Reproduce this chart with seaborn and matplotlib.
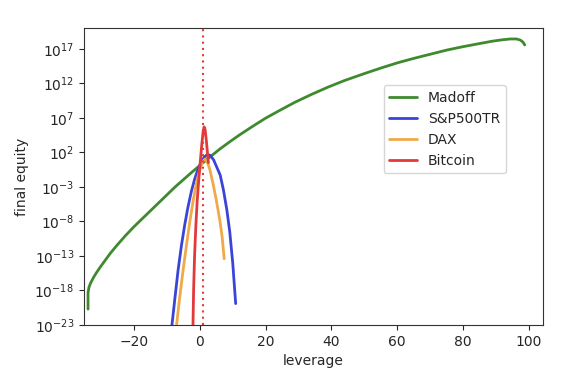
import numpy as np
import pandas as pd
import matplotlib
matplotlib.use("Agg")
import matplotlib.pyplot as plt
import seaborn as sns
from matplotlib.ticker import FixedLocator, NullLocator, LogFormatterSciNotation

# leverage values and log10(final equity)
madoff_x = [-34.0, -34.0, -33.7, -33.2, -32.2, -31.2, -30.2, -29.2, -27.2, -25.1, -22.6,
            -20.1, -17.5, -15.0, -12.5, -10.0, -7.5, -5.0, -2.5, 0, 3, 6, 9, 12, 16, 20,
            24, 28.9, 34, 39, 44, 50, 55, 60, 65, 70, 75, 80, 85, 89, 92, 94.5, 96.3,
            97.5, 98.3, 98.8]
madoff_log = [-20.7, -18.3, -17.5, -16.9, -16.0, -15.25, -14.55, -13.9, -12.6, -11.4, -10.05,
              -8.8, -7.6, -6.45, -5.3, -4.15, -3.0, -1.95, -0.9, 0.1, 1.3, 2.45, 3.5, 4.5,
              5.75, 6.95, 8.0, 9.25, 10.4, 11.45, 12.4, 13.4, 14.2, 14.95, 15.6, 16.2, 16.8,
              17.3, 17.75, 18.1, 18.3, 18.42, 18.42, 18.25, 17.95, 17.55]

sp_x = [-8.6, -7.6, -6.6, -5.6, -4.6, -3.6, -2.6, -1.6, -0.6, 0.4, 1.4, 2.3, 3.2, 4.2,
        5.2, 6.2, 7.2, 8.2, 9.1, 10.0, 10.9]
sp_log = [-23.5, -19.2, -15.0, -11.5, -8.5, -5.9, -3.7, -1.9, -0.5, 0.6, 1.35, 1.7, 1.55,
          0.9, -0.2, -1.3, -3.5, -6.3, -9.5, -14.0, -19.9]

dax_x = [-7.2, -6.2, -5.1, -4.0, -3.0, -2.0, -1.0, 0.0, 0.8, 1.5, 2.2, 3.0, 4.0, 5.0,
         6.1, 6.8, 7.4]
dax_log = [-23.5, -19.3, -15.1, -11.2, -7.9, -4.9, -2.4, -0.5, 0.6, 1.0, 0.7, -0.4, -2.5,
           -4.9, -7.9, -10.3, -13.4]

btc_x = [-2.1, -1.9, -1.6, -1.2, -0.8, -0.3, 0.2, 0.6, 1.0, 1.3, 1.6, 2.0, 2.3, 2.6]
btc_log = [-23.5, -18.0, -13.0, -8.5, -5.0, -1.8, 1.0, 3.2, 5.0, 5.7, 5.3, 3.6, 2.0, 0.5]

series_names = ["Madoff", "S&P500TR", "DAX", "Bitcoin"]
series_colors = ["#3f8a2f", "#3a44d6", "#f0a948", "#e23a3a"]
ref_leverage = 1.0

frames = []
for name, xs, ls in zip(series_names,
                        [madoff_x, sp_x, dax_x, btc_x],
                        [madoff_log, sp_log, dax_log, btc_log]):
    frames.append(pd.DataFrame({"leverage": xs,
                                "final equity": 10.0 ** np.array(ls),
                                "series": name}))
df = pd.concat(frames, ignore_index=True)

sns.set_style("ticks")
plt.rcParams["font.family"] = ["DejaVu Sans"]

fig = plt.figure(figsize=(5.66, 3.74), dpi=100)
ax = fig.add_axes([0.148, 0.131, 0.811, 0.794])

sns.lineplot(data=df, x="leverage", y="final equity", hue="series",
             hue_order=series_names, palette=series_colors, sort=False,
             estimator=None, units="series", linewidth=2, ax=ax)
ax.axvline(ref_leverage, color="#e23a3a", linestyle=(0, (1, 2)), linewidth=1.5)

ax.set_yscale("log")
ax.set_xlim(-35.3, 104.3)
ax.set_ylim(1e-23, 1e20)
ax.yaxis.set_major_locator(FixedLocator([10.0 ** k for k in range(-23, 18, 5)]))
ax.yaxis.set_major_formatter(LogFormatterSciNotation())
ax.yaxis.set_minor_locator(NullLocator())
ax.set_xticks([-20, 0, 20, 40, 60, 80, 100])
ax.set_xlabel("leverage")
ax.set_ylabel("final equity")
for s in ax.spines.values():
    s.set_color("#333333")

leg = ax.legend(loc="upper left", bbox_to_anchor=(0.638, 0.83), frameon=True)
leg.get_frame().set_edgecolor("#cccccc")

fig.savefig("out.png", dpi=100)
